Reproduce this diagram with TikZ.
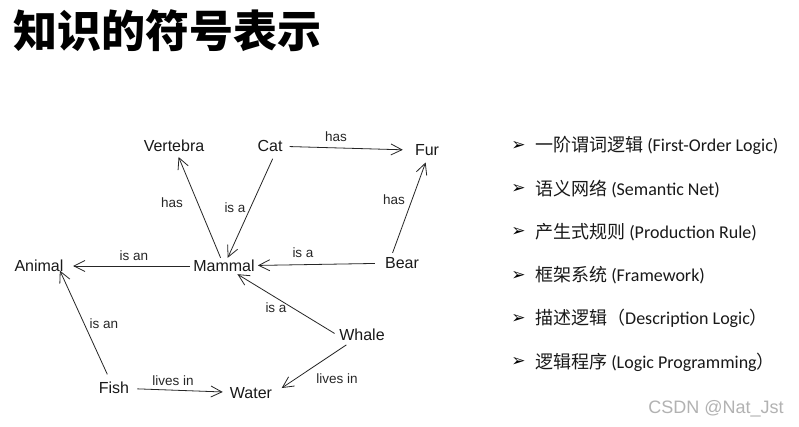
\documentclass[tikz,border=0pt]{standalone}
\usepackage{fontspec}
\setmainfont{Liberation Sans}
\newfontfamily\cjk{Noto Sans CJK SC}
\newfontfamily\calib{Carlito}
\newfontfamily\dejavu{DejaVu Sans}
\usetikzlibrary{arrows.meta}
\begin{document}
\begin{tikzpicture}[x=1pt,y=-1pt,
  concept/.style={font=\fontsize{16}{16}\selectfont, inner sep=2pt, text height=11.5pt, text depth=0.5pt, text=black!90},
  lbl/.style={font=\fontsize{13.5}{13.5}\selectfont, inner sep=0pt, text height=10pt, text depth=0pt, text=black!85},
  rel/.style={draw=black!85, line width=0.8pt, -{Straight Barb[length=11pt,width=11pt]}},
  item/.style={font=\calib\fontsize{18}{18}\selectfont, inner sep=0pt, anchor=base west, text=black!90},
  bul/.style={font=\dejavu\fontsize{17}{17}\selectfont, inner sep=0pt, text=black}]
\useasboundingbox (0,0) rectangle (799,427);
\fill[white] (0,0) rectangle (799,427);

% title
\node[anchor=base west, inner sep=0pt, font=\cjk\bfseries\fontsize{44}{44}\selectfont] (title) at (13.5,47.5) {知识的符号表示};

% concepts
\node[concept] (vertebra) at (174,146) {Vertebra};
\node[concept] (cat) at (270,146) {Cat};
\node[concept] (fur) at (427,150.5) {Fur};
\node[concept] (animal) at (39,266) {Animal};
\node[concept] (mammal) at (224,266) {Mammal};
\node[concept] (bear) at (402,263) {Bear};
\node[concept] (whale) at (362,335) {Whale};
\node[concept] (fish) at (114,388) {Fish};
\node[concept] (water) at (251,393) {Water};

% relations
\draw[rel, shorten <=5pt, shorten >=10pt] (cat) -- (fur);
\draw[rel, shorten >=3pt] (mammal) -- (vertebra);
\draw[rel, shorten <=5pt] (cat.-60) -- (mammal);
\draw[rel, shorten <=2pt, shorten >=4pt] (bear.141) -- (fur.south);
\draw[rel, shorten <=1pt, shorten >=7.5pt] (mammal) -- (animal);
\draw[rel, shorten <=8pt, shorten >=1pt] (bear) -- (mammal);
\draw[rel, shorten <=3pt] (whale.west) -- (mammal);
\draw[rel, shorten <=6pt, shorten >=-4pt] (fish.117) -- (animal.-20);
\draw[rel, shorten <=6pt, shorten >=5pt] (fish) -- (water);
\draw[rel, shorten <=3pt, shorten >=9pt] (whale.212) -- (water.east);

% relation labels
\node[lbl] (l1) at (336,137) {has};
\node[lbl] (l2) at (172,203) {has};
\node[lbl] (l3) at (235,208) {is a};
\node[lbl] (l4) at (394,200) {has};
\node[lbl] (l5) at (134,256) {is an};
\node[lbl] (l6) at (303,253) {is a};
\node[lbl] (l7) at (276,307) {is a};
\node[lbl] (l8) at (104,323) {is an};
\node[lbl] (l9) at (173,380) {lives in};
\node[lbl] (l10) at (337,378) {lives in};

% list
\foreach \k/\yy in {1/146,2/189.2,3/232.4,4/275.6,5/318.8,6/362}
  \node[bul] (b\k) at (518.5,\yy) {➢};
\node[item] (i1) at (535,152) {{\cjk 一阶谓词逻辑} (First-Order Logic)};
\node[item] (i2) at (535,195.2) {{\cjk 语义网络} (Semantic Net)};
\node[item] (i3) at (535,238.4) {{\cjk 产生式规则} (Production Rule)};
\node[item] (i4) at (535,281.6) {{\cjk 框架系统} (Framework)};
\node[item] (i5) at (535,324.8) {{\cjk 描述逻辑（}Description Logic{\cjk ）}};
\node[item] (i6) at (535,368) {{\cjk 逻辑程序} (Logic Programming{\cjk ）}};

% watermark
\node[anchor=center, inner sep=0pt, font=\fontsize{18}{18}\selectfont, text=black!30] (wm) at (716,409) {CSDN @Nat\_Jst};
\end{tikzpicture}
\end{document}
